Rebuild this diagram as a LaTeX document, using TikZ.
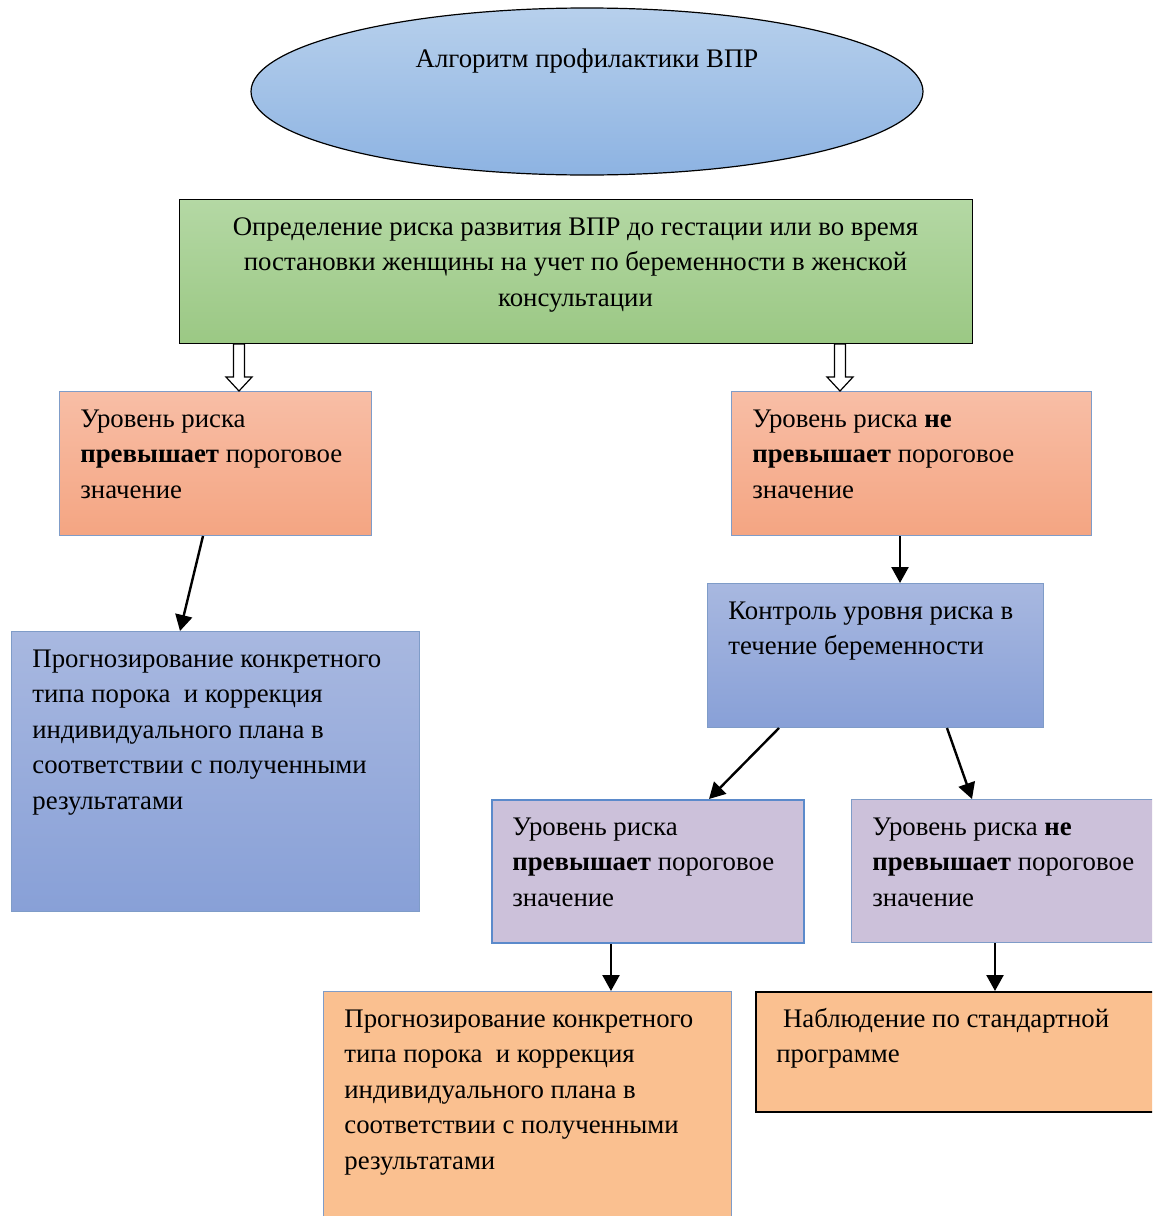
\documentclass[tikz,border=0pt]{standalone}
\usepackage{fontspec}
\setmainfont{Liberation Serif}
\usetikzlibrary{shapes.geometric,arrows.meta,calc}
\definecolor{ellTop}{HTML}{B7D0EC}
\definecolor{ellBot}{HTML}{8DB3E2}
\definecolor{grTop}{HTML}{B4D8A4}
\definecolor{grBot}{HTML}{9BC884}
\definecolor{orTop}{HTML}{F8BEA6}
\definecolor{orBot}{HTML}{F4A582}
\definecolor{blTop}{HTML}{A8B8E0}
\definecolor{blBot}{HTML}{88A0D7}
\definecolor{purp}{HTML}{CCC1DA}
\definecolor{peach}{HTML}{FAC090}
\definecolor{thinB}{HTML}{7F9CC8}
\definecolor{thickB}{HTML}{5B8ACB}
\tikzset{
  box/.style={rectangle, inner sep=0pt, anchor=north west, line width=0.5pt},
  txt/.style={inner sep=0pt, anchor=north west, align=left, font=\fontsize{13.4}{17.75}\selectfont},
  ctxt/.style={inner sep=0pt, anchor=north, align=center, font=\fontsize{13.4}{17.75}\selectfont},
  conn/.style={line width=1.2pt, -{Triangle[length=8pt,width=8.5pt]}},
  hollow/.style={draw=black, fill=white, line width=0.6pt, line join=miter}
}
\begin{document}
\begin{tikzpicture}[x=0.5pt,y=-0.5pt]
\useasboundingbox (0,0) rectangle (1152,1216);
\clip (0,0) rectangle (1152,1216);
\fill[white] (0,0) rectangle (1152,1216);

% ellipse
\node[ellipse, draw=black, line width=0.6pt, minimum width=336pt, minimum height=83.5pt, inner sep=0pt,
      top color=ellTop, bottom color=ellBot] (ell) at (587,91.5) {};
\node[inner sep=0pt, font=\fontsize{13.4}{17.75}\selectfont] (ellt) at (587,61) {Алгоритм профилактики ВПР};

% green box
\node[box, draw=black, minimum width=396.5pt, minimum height=72pt, top color=grTop, bottom color=grBot] (g) at (179,199) {};
\node[ctxt] (gt) at (575.5,210) {\strut Определение риска развития ВПР до гестации или во время\\
постановки женщины на учет по беременности в женской\\ консультации};

% orange boxes
\node[box, draw=thinB, minimum width=156pt, minimum height=72pt, top color=orTop, bottom color=orBot] (o1) at (59,391) {};
\node[txt] (o1t) at (80,402) {\strut Уровень риска\\ \textbf{превышает} пороговое\\ значение};
\node[box, draw=thinB, minimum width=180pt, minimum height=72pt, top color=orTop, bottom color=orBot] (o2) at (731,391) {};
\node[txt] (o2t) at (752,402) {\strut Уровень риска \textbf{не}\\ \textbf{превышает} пороговое\\ значение};

% blue boxes
\node[box, draw=thinB, minimum width=204pt, minimum height=140pt, top color=blTop, bottom color=blBot] (bL) at (11,631) {};
\node[txt] (bLt) at (32,642) {\strut Прогнозирование конкретного\\ типа порока\ \ и коррекция\\ индивидуального плана в\\ соответствии с полученными\\ результатами};
\node[box, draw=thinB, minimum width=168pt, minimum height=72pt, top color=blTop, bottom color=blBot] (bR) at (707,583) {};
\node[txt] (bRt) at (728,594) {\strut Контроль уровня риска в\\ течение беременности};

% purple boxes
\node[box, draw=thickB, line width=1.2pt, minimum width=156pt, minimum height=71.5pt, fill=purp] (pL) at (491,799) {};
\node[txt] (pLt) at (512,810) {\strut Уровень риска\\ \textbf{превышает} пороговое\\ значение};
\node[box, draw=thinB, line width=0.7pt, minimum width=160pt, minimum height=71.5pt, fill=purp] (pR) at (851,799) {};
\node[txt] (pRt) at (872,810) {\strut Уровень риска \textbf{не}\\ \textbf{превышает} пороговое\\ значение};

% peach boxes
\node[box, draw=thinB, minimum width=204pt, minimum height=120pt, fill=peach] (kL) at (323,991) {};
\node[txt] (kLt) at (344,1002) {\strut Прогнозирование конкретного\\ типа порока\ \ и коррекция\\ индивидуального плана в\\ соответствии с полученными\\ результатами};
\node[box, draw=black, line width=0.8pt, minimum width=205pt, minimum height=60pt, fill=peach] (kR) at (755,991) {};
\node[txt] (kRt) at (776,1002) {\strut \ Наблюдение по стандартной\\ программе};

% hollow arrows
\coordinate (h1s) at ([xshift=30pt]g.south west);
\coordinate (h1e) at ([xshift=90pt]o1.north west);
\coordinate (h2s) at ([xshift=330.5pt]g.south west);
\coordinate (h2e) at ([xshift=54.5pt]o2.north west);
\draw[hollow] ([xshift=-2.75pt]h1s) -- ([xshift=-2.75pt,yshift=7pt]h1e) -- ([xshift=-6.5pt,yshift=7pt]h1e) -- (h1e)
  -- ([xshift=6.5pt,yshift=7pt]h1e) -- ([xshift=2.75pt,yshift=7pt]h1e) -- ([xshift=2.75pt]h1s) -- cycle;
\draw[hollow] ([xshift=-2.75pt]h2s) -- ([xshift=-2.75pt,yshift=7pt]h2e) -- ([xshift=-6.5pt,yshift=7pt]h2e) -- (h2e)
  -- ([xshift=6.5pt,yshift=7pt]h2e) -- ([xshift=2.75pt,yshift=7pt]h2e) -- ([xshift=2.75pt]h2s) -- cycle;

% solid arrows
\draw[conn] ([xshift=72pt]o1.south west) -- ([xshift=84.5pt]bL.north west);
\draw[conn] ([xshift=84.5pt]o2.south west) -- ([xshift=96.5pt]bR.north west);
\draw[conn] ([xshift=36pt]bR.south west) -- ([xshift=109pt]pL.north west);
\draw[conn] ([xshift=120pt]bR.south west) -- ([xshift=60.5pt]pR.north west);
\draw[conn] ([xshift=60pt]pL.south west) -- ([xshift=144pt]kL.north west);
\draw[conn] ([xshift=72pt]pR.south west) -- ([xshift=120pt]kR.north west);
\end{tikzpicture}
\end{document}
